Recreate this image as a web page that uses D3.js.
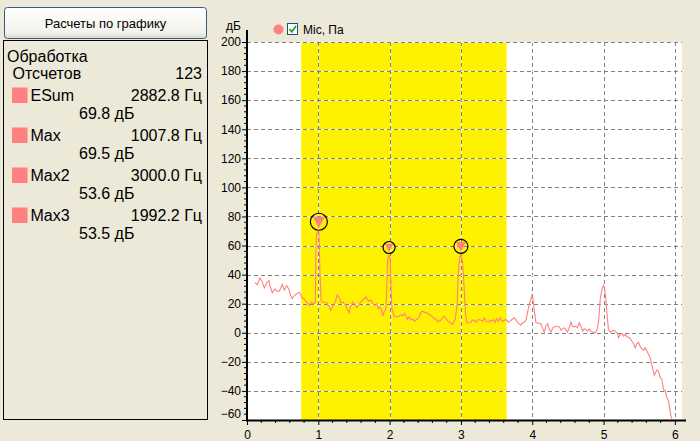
<!DOCTYPE html>
<html><head><meta charset="utf-8">
<script src="https://cdn.jsdelivr.net/npm/d3@7"></script>
<style>
body{margin:0;background:#ECE9D8;}
svg{display:block;font-family:"Liberation Sans",Arial,sans-serif;}
</style>
</head><body>
<svg id="c" width="700" height="441"></svg>
<script>
// ---------- data ----------
const freqKHz = [0.112,0.145,0.182,0.215,0.243,0.276,0.309,0.323,0.355,0.393,0.417,0.453,0.495,0.523,0.557,0.589,0.613,0.636,0.664,0.697,0.730,0.753,0.776,0.800,0.824,0.846,0.874,0.898,0.930,0.958,
0.968,0.982,1.0078,1.024,1.038,1.048,1.080,1.118,1.151,1.174,1.202,1.235,1.267,1.295,1.315,1.343,1.375,1.407,1.431,1.455,1.483,1.515,1.539,1.562,1.586,1.609,1.642,1.670,1.702,1.726,1.750,1.772,1.796,1.820,1.842,1.866,1.890,1.904,1.922,1.946,
1.957,1.971,1.9922,2.006,2.020,2.034,2.044,2.063,2.091,2.123,2.157,2.179,2.207,2.231,2.249,2.273,2.297,2.325,2.347,2.381,2.413,2.437,2.460,2.488,2.521,2.554,2.582,2.614,2.648,2.684,2.718,2.740,2.764,2.792,2.816,2.848,2.872,2.895,2.918,2.932,
2.947,2.961,2.982,3.000,3.024,3.045,3.066,3.083,3.129,3.161,3.185,3.213,3.245,3.279,3.307,3.330,3.353,3.386,3.410,3.433,3.456,3.480,3.504,3.526,3.550,3.574,3.596,3.620,3.644,3.666,3.690,3.714,3.746,3.774,3.807,3.840,3.863,3.891,3.915,3.933,
3.957,3.981,3.995,4.009,4.027,4.051,4.073,4.101,4.121,4.149,4.167,4.191,4.214,4.237,4.261,4.289,4.322,4.354,4.382,4.402,4.424,4.448,4.472,4.494,4.518,4.542,4.564,4.588,4.612,4.634,4.658,4.682,4.705,4.728,4.752,4.775,4.799,4.822,4.851,4.883,
4.907,4.929,4.953,4.977,4.999,5.013,5.033,5.047,5.069,5.093,5.117,5.149,5.177,5.196,5.210,5.233,5.257,5.280,5.304,5.328,5.364,5.398,5.420,5.444,5.468,5.490,5.514,5.538,5.561,5.584,5.608,5.631,5.655,5.669,5.692,5.711,5.729,5.749,5.771,5.795,
5.819,5.841,5.865,5.889,5.911,5.925,5.945,5.959];
const levelDb = [34.4,33,37.8,34.8,31,34.4,35.7,32,27.5,30.2,28.6,28.6,33.2,29.3,32.5,29.8,25.6,23.6,25.6,26.8,27.9,26.3,24,23.4,21.7,20.6,18.8,21,20.1,20.6,
62,69.5,69.5,40,22.5,21.7,21,20.6,18.3,15.5,18.3,21,26.1,24,20.6,21,19.5,16,13.7,18.3,21,19.5,17.2,18.8,20.6,21.7,23.4,24.7,21.7,22.4,21.7,19.5,18.8,19.9,16.5,17.9,14.8,11.4,14.2,16,
25,50,53.5,52,30,16,14.8,11.4,11,11,12.6,11.4,13.3,11.4,9.1,11,8.7,9.6,8,9.1,10.7,13.7,14.8,14.2,13.7,12.6,11.9,10.3,9.1,7.6,8.7,10.3,11.4,9.8,8,7.3,5.7,6.9,9.1,13.7,
20,40,52,53.6,48,30,12,6.9,6.9,8.7,8.7,7.3,9.1,8.7,8,10.3,8,7.3,8.5,8,9.1,7.3,9.6,8,10.3,8,8,9.1,8.7,7.3,8,9.1,10.3,8.7,6.4,5.2,6.9,7.3,9.1,13.7,
19.5,22.9,25.6,24,16,6.9,6.9,6.4,6.4,2.7,0.4,4.5,6.2,2.7,0.4,3.4,4.5,4.1,4.1,1.8,2.7,3.4,2.3,0.4,3.4,7.3,4.5,4.1,4.5,3.4,6.9,4.5,1.1,2.7,2.3,1.1,2.7,1.1,0.4,0,
1.8,6.9,22.9,29.8,32.5,30.9,22.9,13.7,2.3,0.5,1.1,1.8,0.4,-0.5,-3.4,-1.2,-0.5,-2.3,-1.2,-2.7,-3.4,-5.8,-7.4,-10.3,-7.4,-6.5,-9.6,-11,-12,-10.3,-12.6,-14.9,-17.2,-20.6,-25.2,-29.3,-27.5,-25.7,-26.4,-30.9,
-32.1,-39,-40.1,-44.7,-47,-51.5,-57.3,-59.6];

const peakFreq = [1.0078, 1.9922, 3.0];
const peakDb = [69.5, 53.5, 53.6];
const peakRadius = [8.5, 6, 7];

const bandRange = [0.76, 3.64];
const xTicks = [0,1,2,3,4,5,6];
const yTicks = [-60,-40,-20,0,20,40,60,80,100,120,140,160,180,200];

const seriesName = "Mic, Па";
const yUnit = "дБ";
const buttonText = "Расчеты по графику";
const panelTitle = "Обработка";
const countLabel = "Отсчетов";
const countValue = "123";
const infoNames = ["ESum","Max","Max2","Max3"];
const infoFreq = ["2882.8 Гц","1007.8 Гц","3000.0 Гц","1992.2 Гц"];
const infoDb = ["69.8 дБ","69.5 дБ","53.6 дБ","53.5 дБ"];

// ---------- drawing ----------
const pink = "#FF8080";
const svg = d3.select("#c");
const X0 = 247, X1 = 682, Y0 = 42, Y1 = 420;
const x = d3.scaleLinear().domain([0, 6.1]).range([X0, X1]);
const y = d3.scaleLinear().domain([-60, 200]).range([Y1, Y0]);

// left panel
const defs = svg.append("defs");
const grad = defs.append("linearGradient").attr("id","btn").attr("x1",0).attr("y1",0).attr("x2",0).attr("y2",1);
grad.append("stop").attr("offset","0%").attr("stop-color","#FFFFFF");
grad.append("stop").attr("offset","80%").attr("stop-color","#F3F2EC");
grad.append("stop").attr("offset","100%").attr("stop-color","#DCDAD0");
svg.append("rect").attr("x",4.5).attr("y",7.5).attr("width",202).attr("height",31).attr("rx",3)
  .attr("fill","url(#btn)").attr("stroke","#3C5A78").attr("stroke-width",1);
svg.append("text").attr("x",105.5).attr("y",27.5).attr("text-anchor","middle").attr("font-size",13).text(buttonText);

svg.append("rect").attr("x",3.5).attr("y",40.5).attr("width",204).attr("height",379)
  .attr("fill","none").attr("stroke","#000").attr("stroke-width",1);
svg.append("text").attr("x",7).attr("y",61.5).attr("font-size",16).text(panelTitle);
svg.append("text").attr("x",12.5).attr("y",78.5).attr("font-size",16).text(countLabel);
svg.append("text").attr("x",202).attr("y",78.5).attr("font-size",16).attr("text-anchor","end").text(countValue);
const info = svg.append("g").selectAll("g").data(infoNames).join("g")
  .attr("transform",(d,i)=>`translate(0,${i*40})`);
info.append("rect").attr("x",12).attr("y",87.5).attr("width",15.5).attr("height",15.5).attr("fill",pink);
info.append("text").attr("x",30.5).attr("y",101).attr("font-size",16).text(d=>d);
info.append("text").attr("x",202).attr("y",101).attr("font-size",16).attr("text-anchor","end").text((d,i)=>infoFreq[i]);
info.append("text").attr("x",79).attr("y",118.5).attr("font-size",16).text((d,i)=>infoDb[i]);

// plot background
svg.append("rect").attr("x",X0).attr("y",Y0).attr("width",X1-X0).attr("height",Y1-Y0).attr("fill","#fff");
svg.append("rect").attr("x",x(bandRange[0])).attr("y",Y0).attr("width",x(bandRange[1])-x(bandRange[0]))
  .attr("height",Y1-Y0).attr("fill","#FFF200");

// grid
const grid = svg.append("g");
const vg = xTicks.filter(d=>d>0);
grid.selectAll("line.vw").data(vg).join("line").attr("class","vw")
  .attr("x1",d=>Math.round(x(d))+0.5).attr("x2",d=>Math.round(x(d))+0.5).attr("y1",Y0).attr("y2",Y1)
  .attr("stroke","#fff").attr("stroke-width",1);
grid.selectAll("line.vd").data(vg).join("line").attr("class","vd")
  .attr("x1",d=>Math.round(x(d))+0.5).attr("x2",d=>Math.round(x(d))+0.5).attr("y1",Y0).attr("y2",Y1)
  .attr("stroke","#808080").attr("stroke-width",1).attr("stroke-dasharray","4,3");
const hg = yTicks.filter(d=>d>-60);
grid.selectAll("line.hw").data(hg).join("line").attr("class","hw")
  .attr("y1",d=>Math.round(y(d))+0.5).attr("y2",d=>Math.round(y(d))+0.5).attr("x1",X0).attr("x2",X1)
  .attr("stroke","#fff").attr("stroke-width",1);
grid.selectAll("line.hd").data(hg).join("line").attr("class","hd")
  .attr("y1",d=>Math.round(y(d))+0.5).attr("y2",d=>Math.round(y(d))+0.5).attr("x1",X0).attr("x2",X1)
  .attr("stroke","#808080").attr("stroke-width",1).attr("stroke-dasharray","4,3");

// series line
defs.append("clipPath").attr("id","clip").append("rect").attr("x",X0).attr("y",Y0).attr("width",X1-X0).attr("height",Y1-Y0);
const pts = freqKHz.map((f,i)=>[f, levelDb[i]]);
svg.append("path").datum(pts).attr("clip-path","url(#clip)")
  .attr("d", d3.line().x(d=>x(d[0])).y(d=>y(d[1])))
  .attr("fill","none").attr("stroke",pink).attr("stroke-width",1.1);

// peak markers
const mk = svg.append("g").selectAll("g").data(peakFreq).join("g")
  .attr("transform",(d,i)=>`translate(${x(d)},${y(peakDb[i]) - peakRadius[i] - 1.5})`);
mk.append("path").attr("d",(d,i)=>{const r=peakRadius[i]; const w=r*0.72, h=r*0.62;
  return `M${-w},${-h}L${w},${-h}L0,${h+1}Z`;}).attr("fill",pink);
mk.append("circle").attr("r",(d,i)=>peakRadius[i]).attr("fill","none").attr("stroke","#000").attr("stroke-width",1.2);

// axes
const xAxis = d3.axisBottom(x).tickValues(xTicks).tickSize(5).tickFormat(d3.format("d"));
const gx = svg.append("g").attr("transform",`translate(0,${Y1})`).call(xAxis);
gx.select(".domain").remove();
gx.selectAll("text").attr("font-size",12).attr("font-family","Liberation Sans, Arial").attr("fill","#000").attr("dy","0.95em");
const xMinor = d3.range(0, 6.01, 0.2).filter(v=>Math.abs(v-Math.round(v))>0.01);
svg.append("g").selectAll("line").data(xMinor).join("line")
  .attr("x1",d=>x(d)).attr("x2",d=>x(d)).attr("y1",Y1).attr("y2",Y1+3).attr("stroke","#000");
svg.append("line").attr("x1",X0-1).attr("x2",686).attr("y1",Y1+0.5).attr("y2",Y1+0.5).attr("stroke","#000").attr("stroke-width",2);

const yAxis = d3.axisLeft(y).tickValues(yTicks).tickSize(5).tickFormat(d3.format("d"));
const gy = svg.append("g").attr("transform",`translate(${X0},0)`).call(yAxis);
gy.select(".domain").remove();
gy.selectAll("text").attr("font-size",12).attr("font-family","Liberation Sans, Arial").attr("fill","#000")
  .attr("x",-6).attr("dy",d=>d===-60?"-0.25em":"0.32em");
const yMinor = d3.range(-60, 200.1, 4).filter(v=>v%20!==0);
svg.append("g").selectAll("line").data(yMinor).join("line")
  .attr("y1",d=>y(d)).attr("y2",d=>y(d)).attr("x1",X0-3).attr("x2",X0).attr("stroke","#000");
svg.append("line").attr("x1",X0).attr("x2",X0).attr("y1",30).attr("y2",Y1+1).attr("stroke","#000").attr("stroke-width",2);

svg.append("text").attr("x",226).attr("y",30).attr("font-size",12).text(yUnit);

// legend
svg.append("circle").attr("cx",278.5).attr("cy",29.5).attr("r",5).attr("fill",pink);
svg.append("rect").attr("x",287.5).attr("y",23.5).attr("width",10).attr("height",11).attr("fill","#fff").attr("stroke","#1C5180").attr("stroke-width",1);
svg.append("path").attr("d","M289.5,29 L291.8,31.8 L296,26").attr("fill","none").attr("stroke","#21A121").attr("stroke-width",1.8);
svg.append("text").attr("x",303).attr("y",34).attr("font-size",12).text(seriesName);
</script>
</body></html>
